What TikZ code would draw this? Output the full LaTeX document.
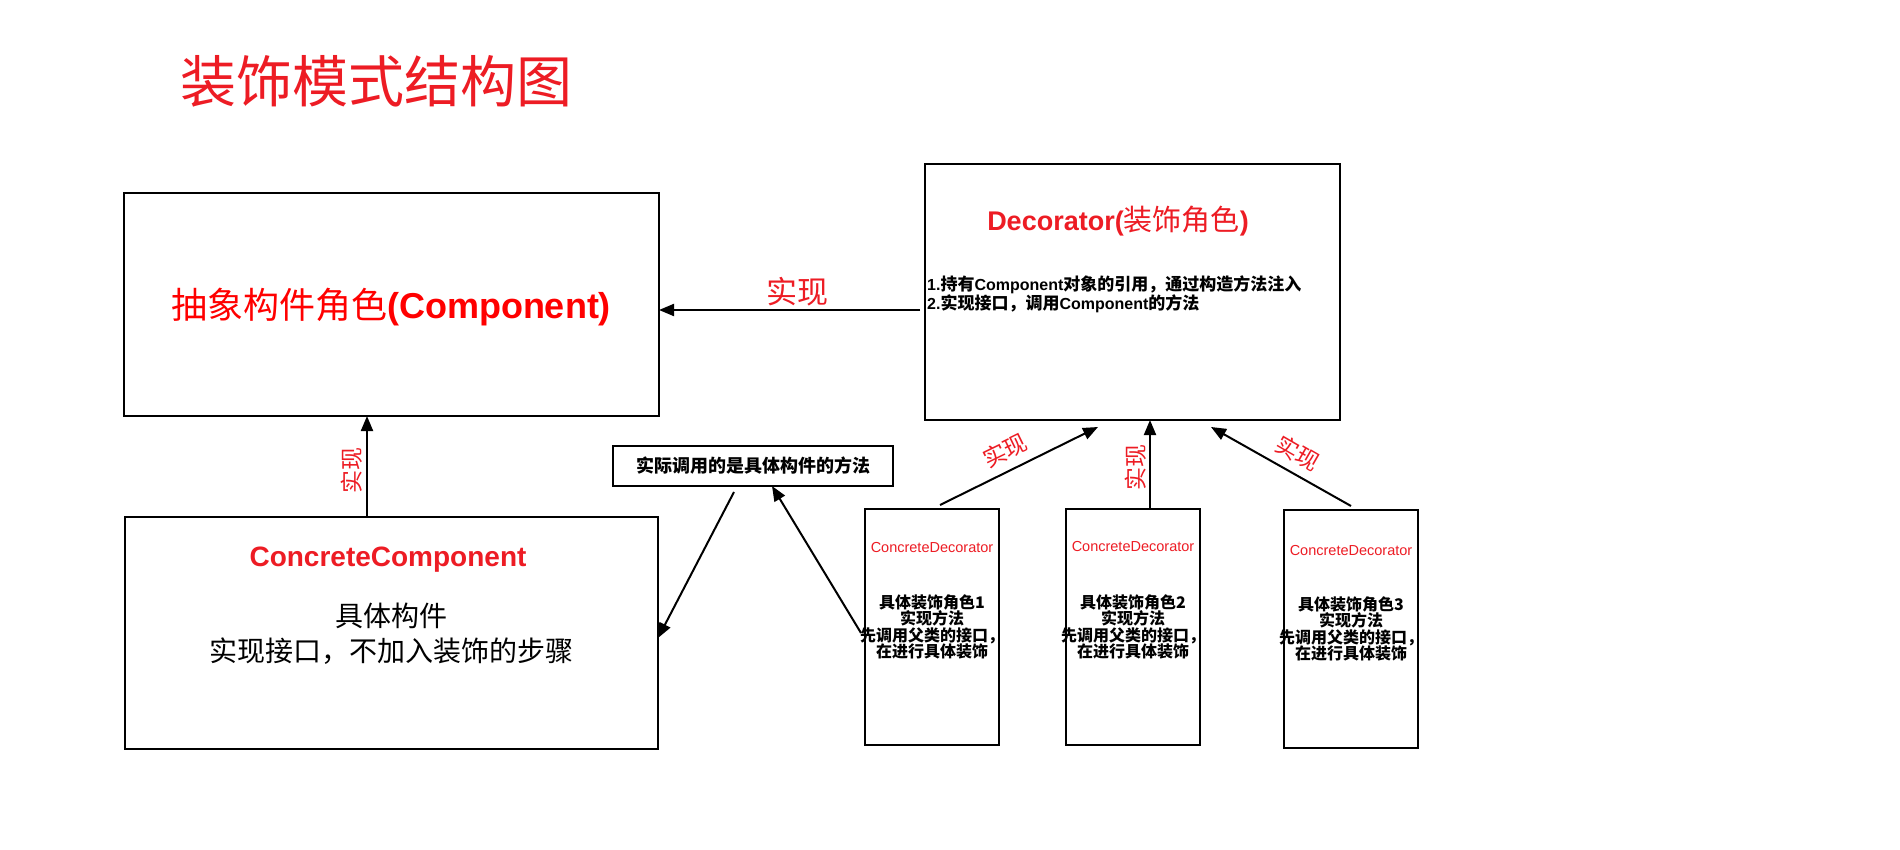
\documentclass[tikz,border=0pt]{standalone}
\usepackage{fontspec}
\setmainfont{Liberation Sans}
\newfontfamily\cjk{Noto Sans CJK SC}
\usetikzlibrary{arrows.meta}
\definecolor{tred}{RGB}{237,28,36}
\definecolor{pred}{RGB}{255,0,0}
\begin{document}
\begin{tikzpicture}[x=1pt,y=-1pt,
  box/.style={draw=black,line width=2pt,rectangle,inner sep=0pt,outer sep=0pt},
  arr/.style={line width=2pt,-{Triangle[length=15pt,width=12pt]}},
  lbl/.style={text=tred,font=\cjk\fontsize{#1}{#1}\selectfont,inner sep=0pt},
  txt/.style={inner sep=0pt,align=center}]
\useasboundingbox[fill=white] (0,0) rectangle (1900,850);

% title
\node[txt,text=tred,font=\cjk\fontsize{56}{60}\selectfont] (title) at (376,81) {装饰模式结构图};

% boxes
\node[box,minimum width=535pt,minimum height=223pt] (comp) at (391.5,304.5) {};
\node[box,minimum width=415pt,minimum height=256pt] (dec) at (1132.5,292) {};
\node[box,minimum width=533pt,minimum height=232pt] (cc) at (391.5,633) {};
\node[box,minimum width=280pt,minimum height=40pt] (note) at (753,466) {};
\node[box,minimum width=134pt,minimum height=236pt] (cd1) at (932,627) {};
\node[box,minimum width=134pt,minimum height=236pt] (cd2) at (1133,627) {};
\node[box,minimum width=134pt,minimum height=238pt] (cd3) at (1351,629) {};

% texts
\node[txt,text=pred,font=\fontsize{36}{40}\selectfont] (comptxt) at (391,307) {{\cjk 抽象构件角色}{\bfseries(Component)}};
\node[txt,text=tred,font=\fontsize{27}{30}\selectfont] (dectitle) at (1118,221) {{\bfseries Decorator(}{\cjk\fontsize{29}{30}\selectfont 装饰角色}{\bfseries)}};
\node[inner sep=0pt,anchor=west,align=left,font=\fontsize{16}{19}\selectfont\bfseries] (declines) at (927,294.5) {1.{\cjk\fontsize{17}{19}\selectfont 持有}Component{\cjk\fontsize{17}{19}\selectfont 对象的引用，通过构造方法注入}\\2.{\cjk\fontsize{17}{19}\selectfont 实现接口，调用}Component{\cjk\fontsize{17}{19}\selectfont 的方法}};
\node[txt,text=tred,font=\fontsize{28}{30}\selectfont\bfseries] (cctitle) at (388,560) {ConcreteComponent};
\node[txt,font=\cjk\fontsize{28}{35}\selectfont] (ccbody) at (391,634) {具体构件\\实现接口，不加入装饰的步骤};
\node[txt,font=\cjk\bfseries\fontsize{18}{20}\selectfont] (notetxt) at (753,466) {实际调用的是具体构件的方法};

\node[txt,text=tred,font=\fontsize{14.5}{16}\selectfont] (cd1t) at (932,548) {ConcreteDecorator};
\node[txt,text=tred,font=\fontsize{14.5}{16}\selectfont] (cd2t) at (1133,547) {ConcreteDecorator};
\node[txt,text=tred,font=\fontsize{14.5}{16}\selectfont] (cd3t) at (1351,551) {ConcreteDecorator};
\node[txt,font=\cjk\bfseries\fontsize{16}{16.5}\selectfont] (cd1b) at (932,627) {具体装饰角色1\\实现方法\\先调用父类的接口，\\在进行具体装饰};
\node[txt,font=\cjk\bfseries\fontsize{16}{16.5}\selectfont] (cd2b) at (1133,627) {具体装饰角色2\\实现方法\\先调用父类的接口，\\在进行具体装饰};
\node[txt,font=\cjk\bfseries\fontsize{16}{16.5}\selectfont] (cd3b) at (1351,629) {具体装饰角色3\\实现方法\\先调用父类的接口，\\在进行具体装饰};

% connectors
\draw[arr] ([xshift=-5pt,yshift=-18pt]dec.west) -- ([yshift=-5.5pt]comp.east);
\draw[arr] ([xshift=-24.5pt]cc.north) -- ([xshift=-24.5pt]comp.south);
\draw[arr] ([xshift=-19pt,yshift=-6pt]note.south) -- ([yshift=-5pt]cc.east);
\draw[arr] ([xshift=-4pt,yshift=-6pt]cd1.west) -- ([xshift=19pt]note.south);
\draw[arr] ([xshift=8pt,yshift=4pt]cd1.north) -- ([xshift=-34.5pt,yshift=-7pt]dec.south);
\draw[arr] ([xshift=17pt]cd2.north) -- ([xshift=17.5pt]dec.south);
\draw[arr] ([yshift=4pt]cd3.north) -- ([xshift=78.5pt,yshift=-7pt]dec.south);

% labels
\node[lbl=31] (l1) at (797,292) {实现};
\node[lbl=23,rotate=90] (l2) at (352,470) {实现};
\node[lbl=23,rotate=26] (l3) at (1005,451) {实现};
\node[lbl=23,rotate=90] (l4) at (1136,467) {实现};
\node[lbl=23,rotate=-30] (l5) at (1298,453) {实现};
\end{tikzpicture}
\end{document}
